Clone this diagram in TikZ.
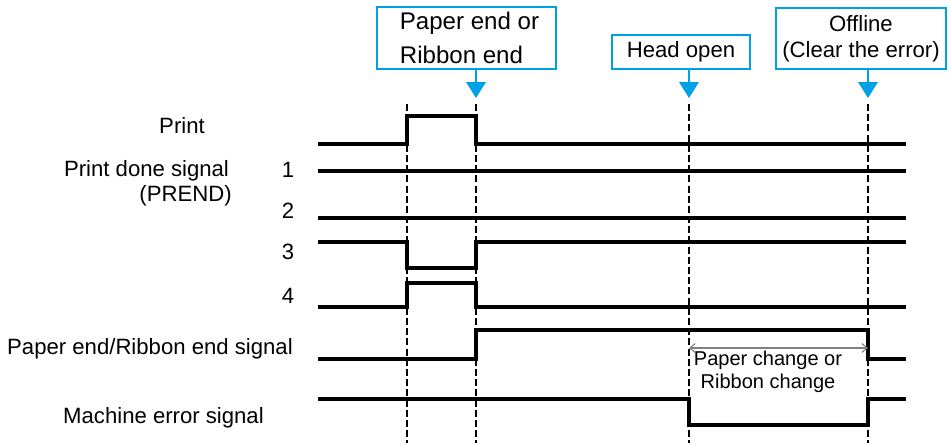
\documentclass[tikz,border=0pt]{standalone}
\usepackage{fontspec}
\setmainfont{Liberation Sans}
\usepackage{xcolor}
\usetikzlibrary{positioning,arrows.meta}
\definecolor{calloutblue}{RGB}{0,160,233}

\begin{document}
\begin{tikzpicture}[x=0.02cm, y=-0.02cm, font=\fontsize{12.6}{15}\selectfont]
    \tikzstyle{signal}=[line width=1.9pt, line join=miter]
    \tikzstyle{marker}=[line width=1.1pt, dash pattern=on 4pt off 1.8pt]
    \tikzstyle{callout}=[draw=calloutblue, line width=1.1pt, align=center, inner sep=0pt]
    \tikzstyle{pointer}=[draw=calloutblue, line width=1.1pt, -{Triangle[width=11pt, length=9pt]}]
    \tikzstyle{label}=[align=center, inner sep=0pt]
    \tikzstyle{span}=[draw=gray, line width=0.6pt, {Straight Barb[length=3pt, width=5pt]}-{Straight Barb[length=3pt, width=5pt]}]

    \useasboundingbox (0,0) rectangle (951,443);

    % Event marks (dashed time lines)
    \foreach \n/\x in {A/407, B/476, C/689, D/868} {
        \coordinate (top\n) at (\x,104);
        \coordinate (bot\n) at (\x,443);
        \draw[marker] (top\n) -- (bot\n);
    }

    % Callouts
    \node[callout, minimum width=3.58cm, minimum height=1.24cm,
          font=\fontsize{13.7}{19}\selectfont, align=left] (boxEnd) at (466.5,38) {\hspace*{0.12cm}Paper end or\\\hspace*{0.12cm}Ribbon end};
    \node[callout, minimum width=2.76cm, minimum height=0.68cm] (boxOpen) at (681,52) {Head open};
    \node[callout, minimum width=3.4cm, minimum height=1.22cm,
          font=\fontsize{12.6}{14.8}\selectfont] (boxOff) at (861,38.5) {Offline\\(Clear the error)};

    \coordinate (tipB) at (476,98);
    \coordinate (tipC) at (689,98);
    \coordinate (tipD) at (868,98);
    \draw[pointer] (boxEnd.south -| tipB) -- (tipB);
    \draw[pointer] (boxOpen.south -| tipC) -- (tipC);
    \draw[pointer] (boxOff.south -| tipD) -- (tipD);

    % Signal names
    \node[label] (lPrint) at (182,126) {Print};
    \node[label] (lDone) at (146.5,171) {Print done signal};
    \node[label, anchor=east] (lPrend) at (232,196) {(PREND)};
    \node[label] (n1) at (288,170) {1};
    \node[label] (n2) at (288,211) {2};
    \node[label] (n3) at (288,252) {3};
    \node[label] (n4) at (288,296) {4};
    \node[label] (lEnd) at (150,349) {Paper end/Ribbon end signal};
    \node[label] (lErr) at (163.5,418) {Machine error signal};

    % Waveforms
    \draw[signal] (318,144) -- (407,144) -- (407,116) -- (476,116) -- (476,144) -- (906,144);
    \draw[signal] (318,171) -- (906,171);
    \draw[signal] (318,218) -- (906,218);
    \draw[signal] (318,242) -- (407,242) -- (407,268) -- (476,268) -- (476,242) -- (906,242);
    \draw[signal] (318,307) -- (407,307) -- (407,283) -- (476,283) -- (476,307) -- (906,307);
    \draw[signal] (318,359) -- (476,359) -- (476,330) -- (868,330) -- (868,359) -- (906,359);
    \draw[signal] (318,399) -- (689,399) -- (689,425) -- (868,425) -- (868,399) -- (906,399);

    % Change period
    \coordinate (spanL) at (689,348);
    \coordinate (spanR) at (868,348);
    \draw[span] (spanL) -- (spanR);
    \node[label, font=\fontsize{11.4}{13}\selectfont] (lChange) at (768,372) {Paper change or\\Ribbon change};
\end{tikzpicture}
\end{document}
